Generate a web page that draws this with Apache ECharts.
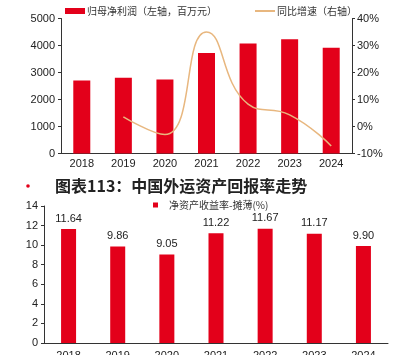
<!DOCTYPE html>
<html>
<head>
<meta charset="utf-8">
<script src="https://cdn.jsdelivr.net/npm/echarts@6/dist/echarts.min.js"></script>
<style>html,body{margin:0;padding:0;background:#fff;}#c{width:411px;height:355px;}</style>
</head>
<body>
<div id="c"></div>
<script>
var years = ['2018','2019','2020','2021','2022','2023','2024'];
var netProfit = [2700, 2805, 2745, 3720, 4075, 4235, 3920];
var growth = [null, 3.6, -3.0, 35.0, 8.3, 4.3, -7.2];
var roe = [11.64, 9.86, 9.05, 11.22, 11.67, 11.17, 9.90];
var leftTicks = {min: 0, max: 5000, interval: 1000};
var rightTicks = {min: -10, max: 40, interval: 10};
var roeTicks = {min: 0, max: 14, interval: 2};
var nameProfit = '归母净利润（左轴，百万元）';
var nameGrowth = '同比增速（右轴）';
var nameRoe = '净资产收益率-摊薄(%)';
var titleText = '图表113：中国外运资产回报率走势';

var RED = '#E3001A';
var TAN = '#E8B77F';
var AX = '#333';
var labelFont = {color: '#222', fontSize: 11, fontFamily: 'Liberation Sans, Arial, sans-serif'};
var cjk = 'Noto Sans CJK SC';

var chart = echarts.init(document.getElementById('c'), null, {renderer: 'canvas'});
chart.setOption({
  animation: false,
  backgroundColor: '#fff',
  graphic: [
    {type: 'circle', shape: {cx: 28, cy: 186, r: 1.8}, style: {fill: RED}},
    {type: 'text', x: 55, y: 186, style: {text: titleText, font: 'bold 16px "Noto Sans CJK SC"', fill: '#222', textVerticalAlign: 'middle'}}
  ],
  legend: [
    {data: [nameProfit], left: 60, top: 1, itemWidth: 20, itemHeight: 6, icon: 'rect',
     textStyle: {fontSize: 10, color: '#333', fontFamily: cjk, padding: [0,0,0,-3]}},
    {data: [{name: nameGrowth, icon: 'rect'}], left: 250, top: 1, itemWidth: 20, itemHeight: 2,
     textStyle: {fontSize: 10, color: '#333', fontFamily: cjk, padding: [0,0,0,-3]}},
    {data: [nameRoe], left: 148, top: 195, itemWidth: 5, itemHeight: 5, icon: 'rect',
     textStyle: {fontSize: 10, color: '#333', fontFamily: cjk, padding: [0,0,0,6]}}
  ],
  grid: [
    {left: 61, top: 18.5, width: 291, height: 135, outerBoundsMode: 'none', containLabel: false},
    {left: 44, top: 206, width: 344, height: 137, outerBoundsMode: 'none', containLabel: false}
  ],
  xAxis: [
    {type: 'category', gridIndex: 0, data: years,
     axisLine: {lineStyle: {color: AX, width: 1}}, axisTick: {show: false},
     axisLabel: Object.assign({margin: 5}, labelFont)},
    {type: 'category', gridIndex: 1, data: years,
     axisLine: {lineStyle: {color: AX, width: 1}}, axisTick: {show: false},
     axisLabel: Object.assign({margin: 7}, labelFont)}
  ],
  yAxis: [
    {type: 'value', gridIndex: 0, min: leftTicks.min, max: leftTicks.max, interval: leftTicks.interval,
     axisLine: {show: true, lineStyle: {color: AX}}, axisTick: {show: true, length: 3, lineStyle: {color: AX}},
     splitLine: {show: false}, axisLabel: Object.assign({margin: 6, formatter: function (v) { return String(v); }}, labelFont)},
    {type: 'value', gridIndex: 0, position: 'right', min: rightTicks.min, max: rightTicks.max, interval: rightTicks.interval,
     axisLine: {show: true, lineStyle: {color: AX}}, axisTick: {show: true, length: 3, lineStyle: {color: AX}},
     splitLine: {show: false}, axisLabel: Object.assign({margin: 5, formatter: '{value}%'}, labelFont)},
    {type: 'value', gridIndex: 1, min: roeTicks.min, max: roeTicks.max, interval: roeTicks.interval,
     axisLine: {show: true, lineStyle: {color: AX}}, axisTick: {show: true, length: 3, lineStyle: {color: AX}},
     splitLine: {show: false}, axisLabel: Object.assign({margin: 6}, labelFont)}
  ],
  series: [
    {name: nameProfit, type: 'bar', xAxisIndex: 0, yAxisIndex: 0, data: netProfit, barWidth: 17,
     itemStyle: {color: RED}},
    {name: nameGrowth, type: 'line', xAxisIndex: 0, yAxisIndex: 1, data: growth, smooth: 0.5,
     showSymbol: false, symbol: 'none', lineStyle: {color: TAN, width: 1.5}, itemStyle: {color: TAN}, z: 3},
    {name: nameRoe, type: 'bar', xAxisIndex: 1, yAxisIndex: 2, data: roe, barWidth: 15,
     itemStyle: {color: RED},
     label: {show: true, position: 'top', distance: 5, formatter: function (p) { return p.value.toFixed(2); },
             color: '#222', fontSize: 11, fontFamily: 'Liberation Sans, Arial, sans-serif'}}
  ]
});
</script>
</body>
</html>
